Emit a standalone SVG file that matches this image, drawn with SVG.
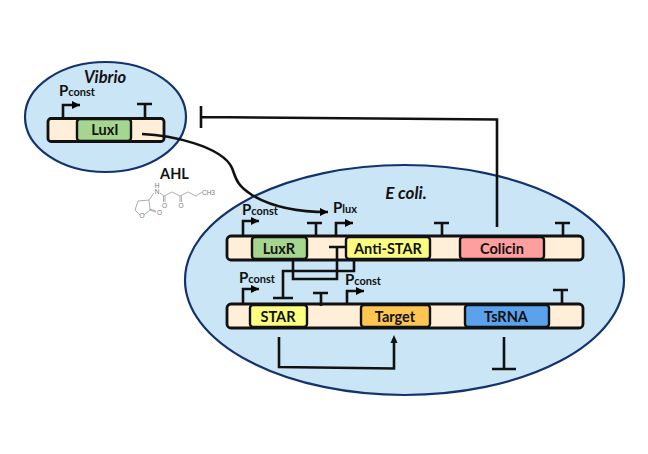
<svg xmlns="http://www.w3.org/2000/svg" width="648" height="454" viewBox="0 0 648 454">
<defs>
<marker id="ah" markerUnits="userSpaceOnUse" markerWidth="10" markerHeight="10" refX="8" refY="4" orient="auto"><path d="M0 0L8 4L0 8Z" fill="#000"/></marker>
</defs>
<style>
text{font-family:Lato,"Open Sans","Liberation Sans",sans-serif;fill:#111}
.cell{fill:#c9e5f6;stroke:#14326e;stroke-width:2.2}
.bar{fill:#ffefd9;stroke:#111;stroke-width:2.8}
.gene{stroke:#111;stroke-width:2.4}
.gl{font-size:14.500px;font-weight:700;text-anchor:middle}
.p{font-size:15px;font-weight:700}
.s{font-size:11px;font-weight:700}
.ln{fill:none;stroke:#111;stroke-width:2.600}
.ar{fill:none;stroke:#111;stroke-width:2.600;marker-end:url(#ah)}
.mol{fill:none;stroke:#999;stroke-width:.8}
.mt{font-size:6.500px;fill:#777;font-family:"Liberation Sans",sans-serif;text-anchor:middle}
</style>
<g id="vibrio">
<ellipse class="cell" cx="105.500" cy="117" rx="80.500" ry="55"/>
<text x="105" y="83" text-anchor="middle" font-size="16.500" font-style="italic" font-weight="700">Vibrio</text>
<rect class="bar" x="48" y="118.500" width="116" height="23" rx="3"/>
<g id="luxI"><rect class="gene" x="77" y="119" width="54" height="22" rx="3" fill="#a5d58f"/><text class="gl" x="105" y="135">LuxI</text></g>
<text x="59" y="96"><tspan class="p">P</tspan><tspan class="s">const</tspan></text>
<path class="ar" d="M63 118V105H80"/>
<path class="ln" d="M145 118V104M137 104H152"/>
</g>
<g id="ecoli">
<ellipse class="cell" cx="404.500" cy="280" rx="219.500" ry="115"/>
<text x="406" y="199" text-anchor="middle" font-size="17" font-style="italic" font-weight="700">E coli.</text>
<rect class="bar" x="227" y="236" width="356" height="24" rx="4"/>
<rect class="bar" x="227" y="304" width="356" height="24" rx="4"/>
</g>
<g id="luxR"><rect class="gene" x="252" y="237" width="55" height="22" rx="3" fill="#a5d58f"/><text class="gl" x="279" y="253.500">LuxR</text></g>
<g id="antiSTAR"><rect class="gene" x="346" y="237" width="84" height="22" rx="3" fill="#fdfd80"/><text class="gl" x="388" y="253.500">Anti-STAR</text></g>
<g id="colicin"><rect class="gene" x="460" y="237" width="84" height="22" rx="3" fill="#fd9f9f"/><text class="gl" x="502" y="253.500">Colicin</text></g>
<g id="star"><rect class="gene" x="250" y="305" width="57" height="22" rx="3" fill="#fdfd80"/><text class="gl" x="278" y="321.500">STAR</text></g>
<g id="target"><rect class="gene" x="361" y="305" width="69" height="22" rx="3" fill="#fdc552"/><text class="gl" x="395" y="321.500">Target</text></g>
<g id="tsRNA"><rect class="gene" x="465" y="305" width="84" height="22" rx="3" fill="#5ba1ec"/><text class="gl" x="506" y="321.500">TsRNA</text></g>
<g id="labels">
<text x="242" y="215"><tspan class="p">P</tspan><tspan class="s">const</tspan></text>
<text x="333" y="213"><tspan class="p">P</tspan><tspan class="s">lux</tspan></text>
<text x="239" y="283"><tspan class="p">P</tspan><tspan class="s">const</tspan></text>
<text x="345" y="285"><tspan class="p">P</tspan><tspan class="s">const</tspan></text>
<text x="174.500" y="179" font-size="14.500" font-weight="700" text-anchor="middle">AHL</text>
</g>
<g id="ahl">
<path class="mol" d="M154 193L149 200L138 201L135 210L140 215M144 215L150 210L149 200M150 210L156 212M150 209L156 211M160 193L164 196L172 192L180 196L188 192L196 196L202 192M163.500 196V202M165 196V202M180 196V202M181.500 196V202"/>
<text class="mt" x="157" y="188">H</text><text class="mt" x="157" y="193.500">N</text>
<text class="mt" x="164.500" y="208">O</text><text class="mt" x="181" y="208">O</text>
<text class="mt" x="142" y="218">O</text><text class="mt" x="159.500" y="214.500">O</text>
<text class="mt" x="208.500" y="194.500">CH3</text>
</g>
<g id="connectors">
<path class="ln" d="M201 106V128M201 117L497 119.500V227"/>
<path class="ar" d="M142 134C170 135 222 146 232 168C236 178 236 185 252 195C272 207 300 212 328 212"/>
<path class="ar" d="M243 235V221H259"/>
<path class="ln" d="M316 235V223M307 223H322"/>
<path class="ar" d="M336 235V223H353"/>
<path class="ln" d="M442 235V223M434 223H449"/>
<path class="ln" d="M563 235V223M555 223H570"/>
<path class="ln" d="M293 260V279H337V247M329 247H345"/>
<path class="ln" d="M354 260V271H283V298M273 298H293"/>
<path class="ar" d="M243 304V289H259"/>
<path class="ln" d="M321 306V293M313 293H328"/>
<path class="ar" d="M347 304V291H364"/>
<path class="ln" d="M562 303V290M553 290H568"/>
<path class="ln" d="M279 337V367L394 368.500V340"/>
<path d="M394 335L390.500 343H397.500Z" fill="#111"/>
<path class="ln" d="M504 337V369M492 369H516"/>
</g>
</svg>
